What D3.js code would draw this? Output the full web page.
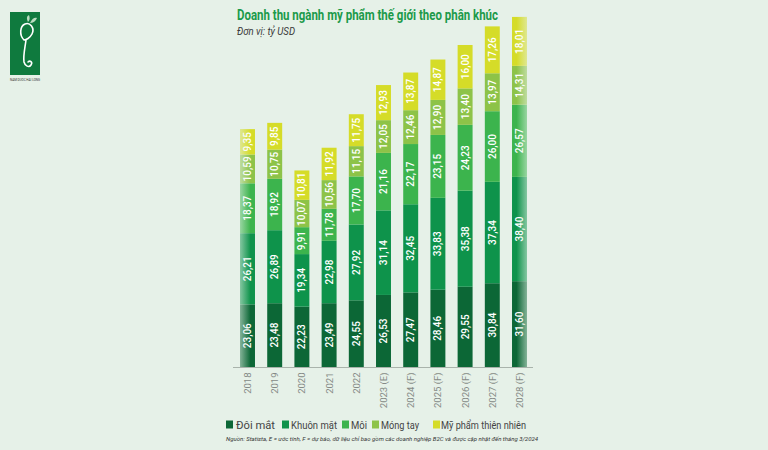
<!DOCTYPE html>
<html><head><meta charset="utf-8">
<script src="https://cdn.jsdelivr.net/npm/d3@7"></script>
<style>html,body{margin:0;padding:0;background:#e6f1e8;}svg{display:block;}</style>
</head><body>
<script>
const years = ["2018","2019","2020","2021","2022","2023 (E)","2024 (F)","2025 (F)","2026 (F)","2027 (F)","2028 (F)"];
const seriesNames = ["Đôi mắt","Khuôn mặt","Môi","Móng tay","Mỹ phẩm thiên nhiên"];
const doiMat   = [23.06,23.48,22.23,23.49,24.55,26.53,27.47,28.46,29.55,30.84,31.60];
const khuonMat = [26.21,26.89,19.34,22.98,27.92,31.14,32.45,33.83,35.38,37.34,38.40];
const moi      = [18.37,18.92,9.91,11.78,17.70,21.16,22.17,23.15,24.23,26.00,26.57];
const mongTay  = [10.59,10.75,10.07,10.56,11.15,12.05,12.46,12.90,13.40,13.97,14.31];
const myPham   = [9.35,9.85,10.81,11.92,11.75,12.93,13.87,14.87,16.00,17.26,18.01];
const colors = ["#0c6736","#0e934b","#3cb44d","#8dc348","#d5dc28"];

const W = 768, H = 450;
const svg = d3.select("body").append("svg").attr("width", W).attr("height", H);
svg.append("rect").attr("width", W).attr("height", H).attr("fill", "#e6f1e8");

const defs = svg.append("defs");
const gl = defs.append("linearGradient").attr("id","fadeL").attr("x1","0").attr("x2","1");
gl.append("stop").attr("offset","0").attr("stop-color","#e6f1e8").attr("stop-opacity",0.55);
gl.append("stop").attr("offset","0.7").attr("stop-color","#e6f1e8").attr("stop-opacity",0);
const gr = defs.append("linearGradient").attr("id","fadeR").attr("x1","0").attr("x2","1");
gr.append("stop").attr("offset","0.3").attr("stop-color","#e6f1e8").attr("stop-opacity",0);
gr.append("stop").attr("offset","1").attr("stop-color","#e6f1e8").attr("stop-opacity",0.55);

const data = years.map((y,i)=>({year:y, "Đôi mắt":doiMat[i], "Khuôn mặt":khuonMat[i], "Môi":moi[i], "Móng tay":mongTay[i], "Mỹ phẩm thiên nhiên":myPham[i]}));
const stack = d3.stack().keys(seriesNames)(data);

const x = d3.scaleBand().domain(years).range([233.9, 533.1]).paddingInner(0.45).paddingOuter(0.225);
const y = d3.scaleLinear().domain([0,130]).range([367, 367-130*2.716]);
const fmt = v => d3.format(".2f")(v).replace(".", ",");

const g = svg.append("g");
stack.forEach((layer, li) => {
  const lg = g.append("g");
  lg.selectAll("rect").data(layer).join("rect")
    .attr("x", d => x(d.data.year)).attr("width", x.bandwidth())
    .attr("y", d => y(d[1])).attr("height", d => y(d[0]) - y(d[1]))
    .attr("fill", colors[li]);
  lg.selectAll("text").data(layer).join("text")
    .attr("transform", d => `translate(${x(d.data.year)+x.bandwidth()/2+3.5},${(y(d[0])+y(d[1]))/2}) rotate(-90)`)
    .attr("text-anchor","middle")
    .attr("font-family","Roboto, sans-serif").attr("font-size",10).attr("font-weight",500)
    .attr("fill","#ffffff")
    .text(d => fmt(d[1]-d[0]));
});
// edge fades
const tot = i => d3.sum(seriesNames.map(k => data[i][k]));
g.append("rect").attr("x", x(years[0])).attr("width", x.bandwidth())
  .attr("y", y(tot(0))).attr("height", y(0) - y(tot(0))).attr("fill","url(#fadeL)");
g.append("rect").attr("x", x(years[10])).attr("width", x.bandwidth())
  .attr("y", y(tot(10))).attr("height", y(0) - y(tot(10))).attr("fill","url(#fadeR)");

// axis
const ax = svg.append("g").attr("transform","translate(0,367.5)")
  .call(d3.axisBottom(x).tickSize(0).tickPadding(0));
ax.select(".domain").attr("stroke","#a9b3ab").attr("d","M233,0H533");
ax.selectAll(".tick text")
  .attr("transform","translate(3.5,5) rotate(-90)")
  .attr("text-anchor","end").attr("dy",0).attr("y",0).attr("x",0)
  .attr("font-family","Roboto, sans-serif").attr("font-size",9.5).attr("fill","#858a86");

// title
svg.append("text").attr("x",237).attr("y",20)
  .attr("font-family","Roboto, sans-serif").attr("font-weight",700).attr("font-size",14)
  .attr("fill","#1b9a4a").attr("textLength",261).attr("lengthAdjust","spacingAndGlyphs")
  .text("Doanh thu ngành mỹ phẩm thế giới theo phân khúc");
svg.append("text").attr("x",237).attr("y",35)
  .attr("font-family","Roboto, sans-serif").attr("font-style","italic").attr("font-size",10)
  .attr("fill","#3a3a3a").attr("textLength",58).attr("lengthAdjust","spacingAndGlyphs")
  .text("Đơn vị: tỷ USD");

// legend
const legSq = [226, 282, 342, 372, 433];
const legTx = [236, 291, 351, 381, 441];
const legLen = [39, 46, 16, 38, 85];
const leg = svg.append("g");
seriesNames.forEach((n,i)=>{
  leg.append("rect").attr("x",legSq[i]).attr("y",420.5).attr("width",7).attr("height",8).attr("fill",colors[i]);
  leg.append("text").attr("x",legTx[i]).attr("y",428.5)
    .attr("font-family","Roboto, sans-serif").attr("font-size",11).attr("fill","#444")
    .attr("textLength",legLen[i]).attr("lengthAdjust","spacingAndGlyphs")
    .text(n);
});
svg.append("text").attr("x",226).attr("y",441)
  .attr("font-family","Roboto, sans-serif").attr("font-style","italic").attr("font-size",5.5)
  .attr("fill","#333").attr("textLength",312).attr("lengthAdjust","spacingAndGlyphs")
  .text("Nguồn: Statista, E = ước tính, F = dự báo, dữ liệu chỉ bao gồm các doanh nghiệp B2C và được cập nhật đến tháng 3/2024");

// logo
const logo = svg.append("g");
logo.append("rect").attr("x",10).attr("y",12).attr("width",30).attr("height",63).attr("fill","#0f7a3e");
logo.append("path").attr("d","M24,40 C19,35 20,26 25,24 M25,24 C30,22 35,28 32,34 C30,38 26,40 24,40 M26,40 C25,48 23,56 24,62 C25,66 29,68 31,65 C33,62 30,60 28,62")
  .attr("fill","none").attr("stroke","#fff").attr("stroke-width",1.6).attr("stroke-linecap","round");
logo.append("path").attr("d","M30,23 C32,18 35,17 37,18 C36,21 33,23 30,23 Z").attr("fill","#b9dcbf");
logo.append("path").attr("d","M28,22 C26,18 27,16 29,15 C30,18 30,20 28,22 Z").attr("fill","#b9dcbf");
logo.append("text").attr("x",10).attr("y",81).attr("font-family","Roboto, sans-serif")
  .attr("font-size",4).attr("fill","#333").attr("textLength",30).attr("lengthAdjust","spacingAndGlyphs")
  .text("NAM DUOC HAI LONG");
</script>
</body></html>
